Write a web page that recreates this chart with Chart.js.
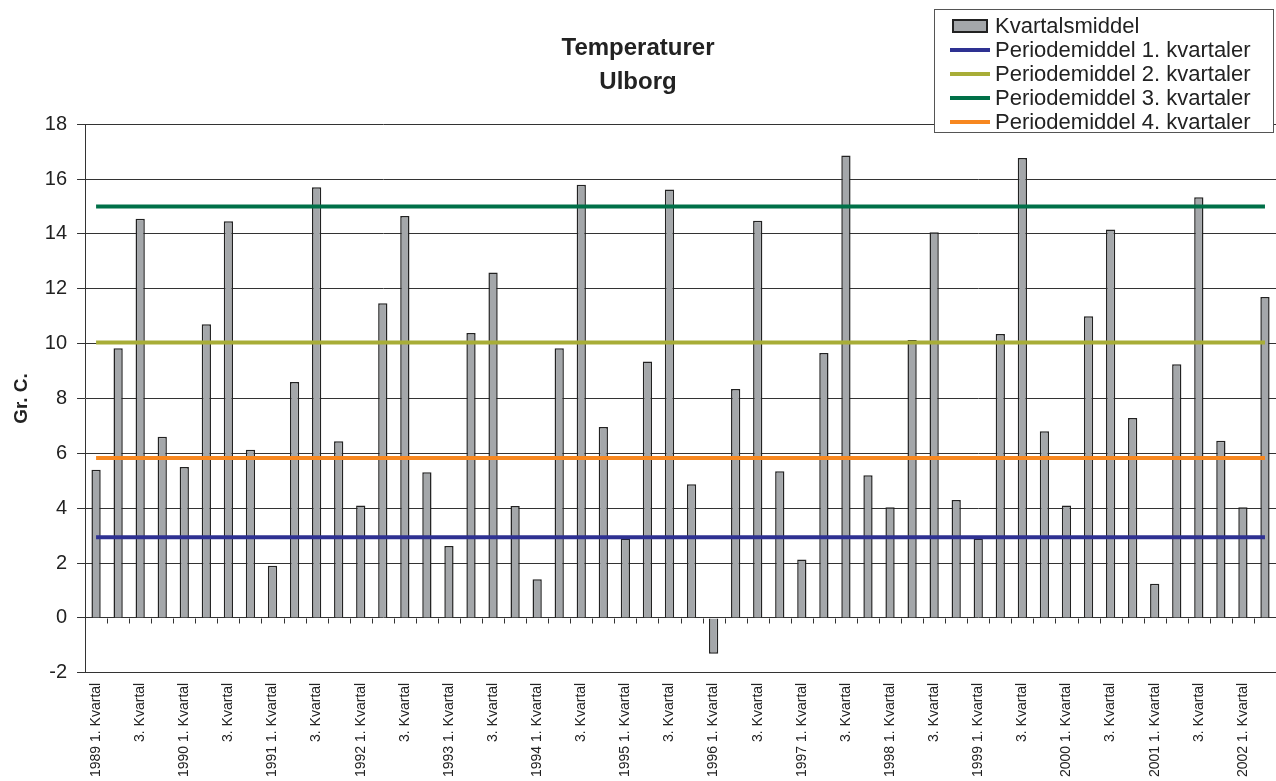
<!DOCTYPE html>
<html>
<head>
<meta charset="utf-8">
<script src="https://cdn.jsdelivr.net/npm/chart.js@4/dist/chart.umd.min.js"></script>
<style>
  body { margin: 0; background: #fff; }
  #wrap { position: relative; width: 1276px; height: 781px; overflow: hidden; }
  #legende {
    position: absolute; left: 934px; top: 9px; width: 340px; height: 124px;
    border: 1.5px solid #555; background: #fff;
    font-family: "Liberation Sans", Arial, sans-serif; font-size: 22px; color: #222;
    padding-top: 4px; box-sizing: border-box;
  }
  #legende .rad { height: 24px; line-height: 24px; display: flex; align-items: center; white-space: nowrap; }
  #legende .symbol { width: 40px; margin-left: 15px; margin-right: 5px; box-sizing: border-box; }
</style>
</head>
<body>
<div id="wrap">
  <canvas id="graf" width="1276" height="781"></canvas>
  <div id="legende"></div>
</div>
<script>
var aar = ['1989', '1990', '1991', '1992', '1993', '1994', '1995', '1996', '1997', '1998', '1999', '2000', '2001', '2002'];
var kvartaler = ['1. Kvartal', '2. Kvartal', '3. Kvartal', '4. Kvartal'];

// Kvartalsmiddel, 1989 1. kvartal .. 2002 2. kvartal
var kvartalsmiddel = [
    5.4, 9.83, 14.55, 6.61,
    5.5, 10.71, 14.46, 6.13,
    1.9, 8.6, 15.7, 6.44,
    4.1, 11.47, 14.65, 5.31,
    2.62, 10.39, 12.59, 4.08,
    1.41, 9.83, 15.79, 6.96,
    2.9, 9.35, 15.62, 4.87,
    -1.3, 8.35, 14.48, 5.35,
    2.13, 9.66, 16.86, 5.2,
    4.04, 10.13, 14.06, 4.3,
    2.9, 10.35, 16.77, 6.81,
    4.1, 11.0, 14.16, 7.29,
    1.25, 9.25, 15.34, 6.46,
    4.04, 11.7
];

var periodemiddel1 = 2.94;
var periodemiddel2 = 10.04;
var periodemiddel3 = 15.0;
var periodemiddel4 = 5.83;

var yTicks = [-2, 0, 2, 4, 6, 8, 10, 12, 14, 16, 18];

// unikke kategorier: "1989 1. Kvartal", "1989 2. Kvartal", ...
var labels = [];
for (var i = 0; i < kvartalsmiddel.length; i++) {
    labels.push(aar[Math.floor(i / 4)] + ' ' + kvartaler[i % 4]);
}

// vandret linje fra foerste til sidste kvartal
function middelLinje(v) {
    return [{ x: labels[0], y: v }, { x: labels[labels.length - 1], y: v }];
}

var FONT = '"Liberation Sans", Arial, sans-serif';

// smaa tick-streger paa 0-linjen mellem kategorierne
var nulAkse = {
    id: 'nulAkse',
    afterDatasetsDraw: function(chart) {
        var x = chart.scales.x, y = chart.scales.y;
        var y0 = Math.round(y.getPixelForValue(0)) + 0.5;
        var ctx = chart.ctx;
        ctx.save();
        ctx.strokeStyle = '#333';
        ctx.lineWidth = 1;
        ctx.beginPath();
        for (var i = 0; i < labels.length - 1; i++) {
            var xb = (x.getPixelForValue(i) + x.getPixelForValue(i + 1)) / 2;
            ctx.moveTo(Math.round(xb) + 0.5, y0);
            ctx.lineTo(Math.round(xb) + 0.5, y0 + 5);
        }
        ctx.stroke();
        ctx.restore();
    }
};

function linje(label, v, farve) {
    return { type: 'line', label: label, data: middelLinje(v), borderColor: farve,
             borderWidth: 4, pointRadius: 0, fill: false, order: 1 };
}

var graf = new Chart(document.getElementById('graf').getContext('2d'), {
    type: 'bar',
    data: {
        labels: labels,
        datasets: [
            { type: 'bar', label: 'Kvartalsmiddel', data: kvartalsmiddel, backgroundColor: '#a4a7aa',
              borderColor: '#222', borderWidth: 1.5, barPercentage: 0.42, categoryPercentage: 1, order: 5 },
            linje('Periodemiddel 1. kvartaler', periodemiddel1, '#2e3192'),
            linje('Periodemiddel 2. kvartaler', periodemiddel2, '#a8ad37'),
            linje('Periodemiddel 3. kvartaler', periodemiddel3, '#007048'),
            linje('Periodemiddel 4. kvartaler', periodemiddel4, '#f7871f')
        ]
    },
    options: {
        responsive: false,
        animation: false,
        devicePixelRatio: 1,
        layout: { padding: { left: 0, right: 0, top: 0, bottom: -6 } },
        plugins: {
            legend: { display: false },
            tooltip: { enabled: false },
            title: {
                display: true,
                text: ['Temperaturer', 'Ulborg'],
                color: '#222',
                font: { family: FONT, size: 24, weight: 'bold', lineHeight: 1.4 },
                padding: { top: 32, bottom: 25 }
            }
        },
        scales: {
            x: {
                type: 'category',
                offset: true,
                grid: { display: false, drawTicks: false },
                border: { display: true, color: '#333', width: 1 },
                afterFit: function(s) { s.paddingRight = 0; s.paddingLeft = 0; },
                ticks: {
                    autoSkip: false, minRotation: 90, maxRotation: 90, padding: 10,
                    color: '#222', font: { family: FONT, size: 14 },
                    callback: function(v, i) {
                        if (i % 4 === 0) return labels[i];
                        if (i % 4 === 2) return kvartaler[2];
                        return '';
                    }
                }
            },
            y: {
                min: yTicks[0],
                max: yTicks[yTicks.length - 1],
                afterBuildTicks: function(ax) { ax.ticks = yTicks.map(function(v) { return { value: v }; }); },
                grid: { color: '#333', lineWidth: 1, tickLength: 8 },
                border: { color: '#333', width: 1 },
                ticks: { color: '#222', padding: 10, font: { family: FONT, size: 20 } },
                title: {
                    display: true, text: 'Gr. C.', color: '#222',
                    font: { family: FONT, size: 19, weight: 'bold' },
                    padding: { top: 10, bottom: 2 }
                }
            }
        }
    },
    plugins: [nulAkse]
});

// legende bygget af datasaettene
var leg = document.getElementById('legende');
graf.data.datasets.forEach(function(ds) {
    var rad = document.createElement('div');
    rad.className = 'rad';
    var sym = document.createElement('div');
    sym.className = 'symbol';
    if (ds.type === 'bar') {
        sym.style.height = '14px';
        sym.style.background = ds.backgroundColor;
        sym.style.border = '2px solid ' + ds.borderColor;
        sym.style.width = '36px';
        sym.style.marginLeft = '17px';
        sym.style.marginRight = '7px';
    } else {
        sym.style.height = ds.borderWidth + 'px';
        sym.style.background = ds.borderColor;
    }
    var txt = document.createElement('span');
    txt.textContent = ds.label;
    rad.appendChild(sym);
    rad.appendChild(txt);
    leg.appendChild(rad);
});
</script>
</body>
</html>
